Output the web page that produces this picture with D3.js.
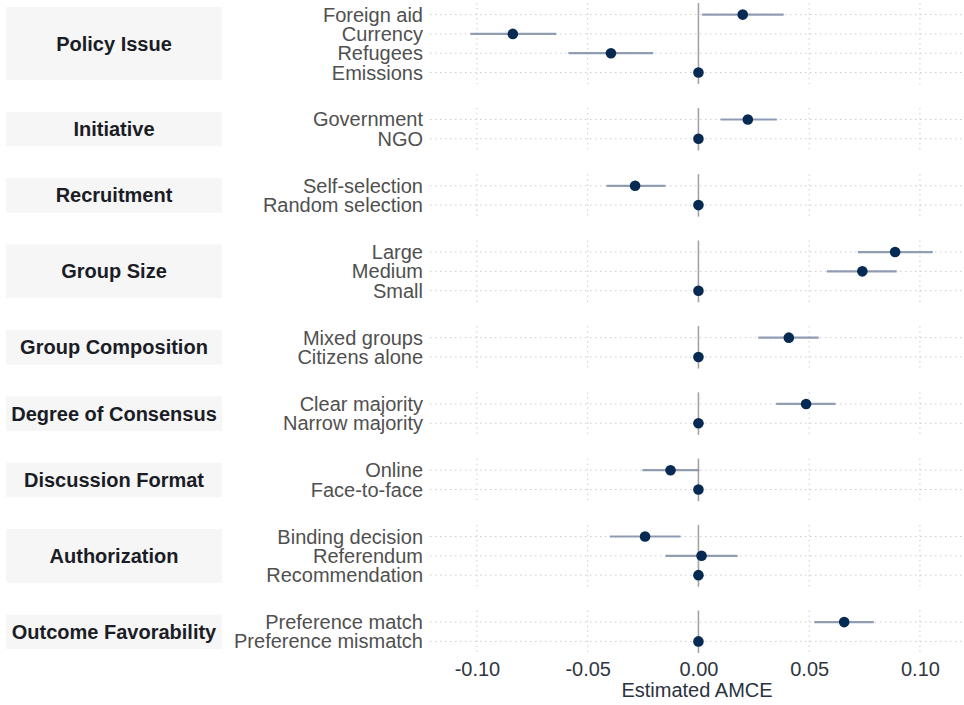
<!DOCTYPE html>
<html>
<head>
<meta charset="utf-8">
<script src="https://cdn.jsdelivr.net/npm/d3@7"></script>
<style>
    body { margin: 0; background: #fff; }
    svg { display: block; font-family: "Liberation Sans", Arial, sans-serif; }
    .grid line { stroke: #cccccc; stroke-width: 1; stroke-dasharray: 1.5 3.5; }
    .ylab { fill: #505050; font-size: 20px; }
    .strip rect { fill: #f6f6f6; }
    .strip text { fill: #1b1d26; font-size: 20px; font-weight: bold; }
    .x-axis text { fill: #303640; font-size: 20px; }
</style>
</head>
<body>
<svg id="chart" width="964" height="705"></svg>
<script>
/**
 * Data: AMCE estimates with 95% intervals, one entry per attribute level.
 */
const groups = ['Policy Issue', 'Initiative', 'Recruitment', 'Group Size', 'Group Composition',
    'Degree of Consensus', 'Discussion Format', 'Authorization', 'Outcome Favorability'];

const levels = ['Foreign aid', 'Currency', 'Refugees', 'Emissions',
    'Government', 'NGO',
    'Self-selection', 'Random selection',
    'Large', 'Medium', 'Small',
    'Mixed groups', 'Citizens alone',
    'Clear majority', 'Narrow majority',
    'Online', 'Face-to-face',
    'Binding decision', 'Referendum', 'Recommendation',
    'Preference match', 'Preference mismatch'];

const levelGroup = [0, 0, 0, 0, 1, 1, 2, 2, 3, 3, 3, 4, 4, 5, 5, 6, 6, 7, 7, 7, 8, 8];

const estimates = [0.0200, -0.0838, -0.0395, 0, 0.0223, 0, -0.0286, 0, 0.0888, 0.0740, 0,
    0.0408, 0, 0.0486, 0, -0.0126, 0, -0.0241, 0.0014, 0, 0.0658, 0];
const lower = [0.0016, -0.1030, -0.0587, 0, 0.0100, 0, -0.0415, 0, 0.0720, 0.0580, 0,
    0.0270, 0, 0.0351, 0, -0.0253, 0, -0.0400, -0.0149, 0, 0.0523, 0];
const upper = [0.0385, -0.0642, -0.0204, 0, 0.0354, 0, -0.0149, 0, 0.1058, 0.0895, 0,
    0.0543, 0, 0.0619, 0, 0.0003, 0, -0.0081, 0.0177, 0, 0.0792, 0];

const xTicks = [-0.10, -0.05, 0.00, 0.05, 0.10];
const xTitle = 'Estimated AMCE';

/**
 * Visual configs.
 */
const panelLeft = 430, panelRight = 964,
    plotTop = 3, plotBottom = 653,
    panelGap = 23.8,
    rowPad = 0.6, // discrete axis expansion, in rows
    stripLeft = 6, stripRight = 222, stripInset = 4,
    labelGap = 7,
    pointRadius = 5.3;

const svg = d3.select('#chart');

const x = d3.scaleLinear()
    .domain([-0.1212, 0.1199])
    .range([panelLeft, panelRight]);

// Panel heights proportional to the number of levels (free y space)
const panels = groups.map((name, gi) => {
    const rows = levels.filter((l, i) => levelGroup[i] === gi);
    return { name: name, rows: rows, units: rows.length - 1 + 2 * rowPad };
});
const totalUnits = d3.sum(panels, p => p.units);
const unit = (plotBottom - plotTop - panelGap * (panels.length - 1)) / totalUnits;

let cursor = plotTop;
panels.forEach(p => {
    p.top = cursor;
    p.bottom = cursor + p.units * unit;
    p.y = d3.scalePoint().domain(p.rows).range([p.top, p.bottom]).padding(rowPad);
    cursor = p.bottom + panelGap;
});

const rowData = levels.map((l, i) => ({
    label: l,
    panel: panels[levelGroup[i]],
    est: estimates[i],
    lo: lower[i],
    hi: upper[i]
}));

/**
 * Panels.
 */
const panelG = svg.append('g').attr('class', 'panels')
    .selectAll('g').data(panels).join('g');

// Vertical grid lines
panelG.append('g').attr('class', 'grid')
    .selectAll('line').data(p => xTicks.filter(t => t !== 0).map(t => ({ t: t, p: p })))
    .join('line')
        .attr('x1', d => x(d.t)).attr('x2', d => x(d.t))
        .attr('y1', d => d.p.top).attr('y2', d => d.p.bottom);

// Horizontal grid lines
panelG.append('g').attr('class', 'grid')
    .selectAll('line').data(p => p.rows.map(r => ({ r: r, p: p })))
    .join('line')
        .attr('x1', panelLeft).attr('x2', panelRight)
        .attr('y1', d => d.p.y(d.r)).attr('y2', d => d.p.y(d.r));

// Zero reference line
panelG.append('line')
    .attr('x1', x(0)).attr('x2', x(0))
    .attr('y1', p => p.top).attr('y2', p => p.bottom)
    .style('stroke', '#a3a3a3')
    .style('stroke-width', 1.6);

// Strips on the left
const strip = svg.append('g').attr('class', 'strip')
    .selectAll('g').data(panels).join('g');
strip.append('rect')
    .attr('x', stripLeft)
    .attr('y', p => p.top + stripInset)
    .attr('width', stripRight - stripLeft)
    .attr('height', p => p.bottom - p.top - 2 * stripInset);
strip.append('text')
    .attr('x', (stripLeft + stripRight) / 2)
    .attr('y', p => (p.top + p.bottom) / 2)
    .attr('dy', '0.35em')
    .attr('text-anchor', 'middle')
    .text(p => p.name);

// Level labels
svg.append('g')
    .selectAll('text').data(rowData).join('text')
        .attr('class', 'ylab')
        .attr('x', panelLeft - labelGap)
        .attr('y', d => d.panel.y(d.label))
        .attr('dy', '0.35em')
        .attr('text-anchor', 'end')
        .text(d => d.label);

/**
 * Estimates.
 */
const marks = svg.append('g').attr('class', 'marks');
marks.selectAll('line').data(rowData.filter(d => d.hi > d.lo)).join('line')
    .attr('x1', d => x(d.lo)).attr('x2', d => x(d.hi))
    .attr('y1', d => d.panel.y(d.label)).attr('y2', d => d.panel.y(d.label))
    .style('stroke', '#7586a0')
    .style('stroke-opacity', 0.8)
    .style('stroke-width', 2.2);
marks.selectAll('circle').data(rowData).join('circle')
    .attr('cx', d => x(d.est))
    .attr('cy', d => d.panel.y(d.label))
    .attr('r', pointRadius)
    .style('fill', '#062a52');

/**
 * X axis.
 */
const fmt = d3.format('.2f');
const xAxis = svg.append('g').attr('class', 'x-axis')
    .attr('transform', 'translate(0,' + plotBottom + ')')
    .call(d3.axisBottom(x).tickValues(xTicks)
        .tickFormat(d => fmt(d).replace('\u2212', '-'))
        .tickSize(0).tickPadding(9));
xAxis.select('.domain').remove();
xAxis.attr('font-family', null).attr('font-size', null);

svg.append('text')
    .attr('x', (panelLeft + panelRight) / 2)
    .attr('y', 697)
    .attr('text-anchor', 'middle')
    .style('fill', '#2a3340')
    .style('font-size', '20px')
    .text(xTitle);
</script>
</body>
</html>
